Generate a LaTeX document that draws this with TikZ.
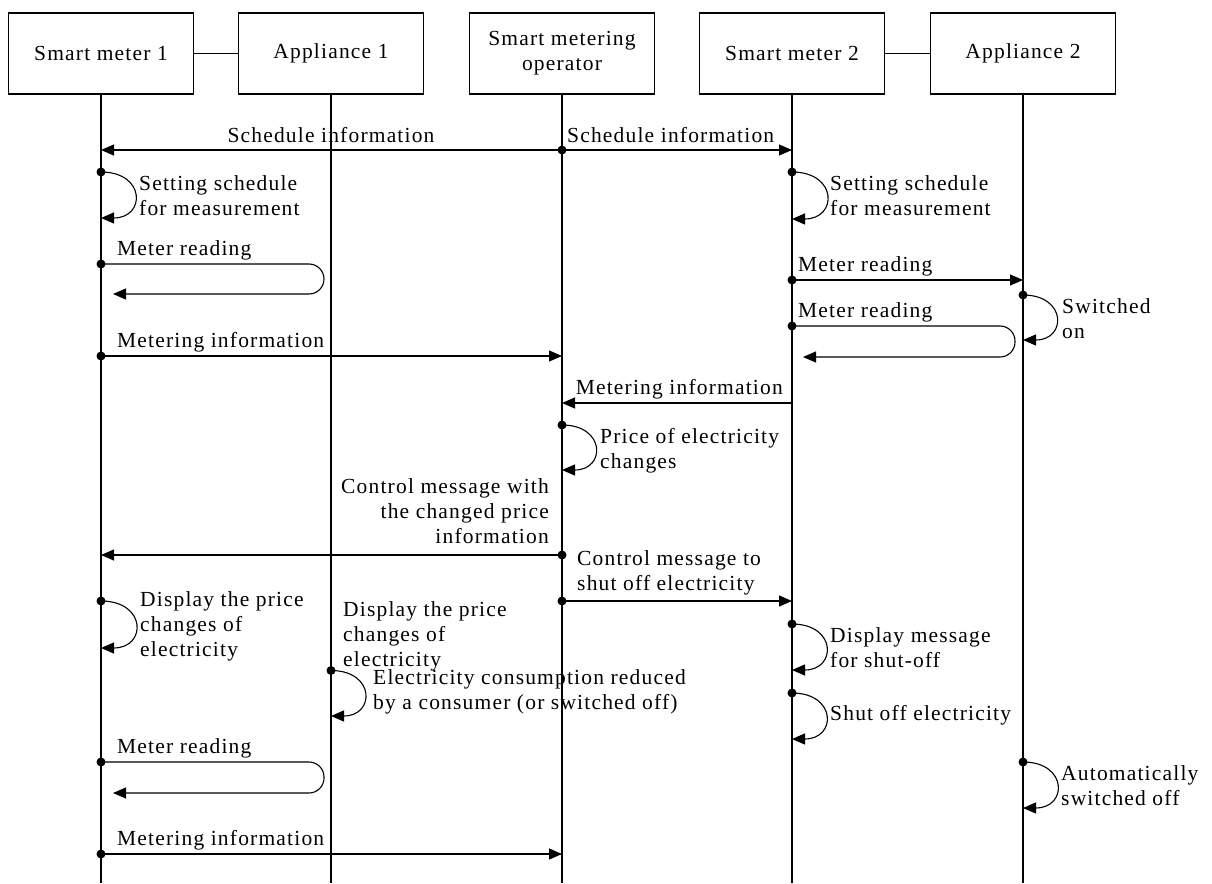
\documentclass[tikz,border=0pt]{standalone}
\usepackage{fontspec}
\setmainfont{Liberation Serif}[LetterSpace=5.5]
\usetikzlibrary{arrows.meta}
\newcommand\lblfont{\fontsize{21.5}{25}\selectfont}
\newcommand\ml[2][l]{\begin{tabular}[t]{@{}#1@{}}#2\end{tabular}}
\begin{document}
\begin{tikzpicture}[x=1pt,y=-1pt,
  box/.style={draw, line width=1.6pt, minimum width=185pt, minimum height=81pt, inner sep=0pt, font=\lblfont},
  link/.style={line width=1.4pt},
  life/.style={line width=1.7pt},
  msg/.style={line width=1.1pt, -{Triangle[length=13pt,width=11pt]}},
  selfloop/.style={msg, out=0, in=0, looseness=2.5},
  uturn/.style={msg, rounded corners=15pt},
  dot/.style={circle, fill, inner sep=0pt, minimum size=9pt},
  lbl/.style={inner sep=0pt, font=\lblfont}]
\useasboundingbox (0,0) rectangle (1212,883);

% participants
\node[box] (sm1) at (101,53.5) {Smart meter 1};
\node[box] (ap1) at (331,53.5) {Appliance 1};
\node[box, align=center] (op) at (562,53.5) {Smart metering\\operator};
\node[box] (sm2) at (792,53.5) {Smart meter 2};
\node[box] (ap2) at (1023,53.5) {Appliance 2};
\draw[link] (sm1) -- (ap1);
\draw[link] (sm2) -- (ap2);

% lifelines
\coordinate (sm1end) at (101,883);
\coordinate (ap1end) at (331,883);
\coordinate (opend) at (562,883);
\coordinate (sm2end) at (792,883);
\coordinate (ap2end) at (1023,883);
\draw[life] (sm1.south) -- (sm1end);
\draw[life] (ap1.south) -- (ap1end);
\draw[life] (op.south) -- (opend);
\draw[life] (sm2.south) -- (sm2end);
\draw[life] (ap2.south) -- (ap2end);

% dots (start points)
\node[dot] (d1) at (562,150) {};
\node[dot] (d2) at (101,172) {};
\node[dot] (d3) at (792,172) {};
\node[dot] (d4) at (101,264) {};
\node[dot] (d5) at (792,280) {};
\node[dot] (d6) at (1023,295) {};
\node[dot] (d7) at (792,326) {};
\node[dot] (d8) at (101,356) {};
\node[dot] (d9) at (562,425) {};
\node[dot] (d10) at (562,555) {};
\node[dot] (d11) at (562,601) {};
\node[dot] (d12) at (101,601) {};
\node[dot] (d13) at (331,670.5) {};
\node[dot] (d14) at (792,624) {};
\node[dot] (d15) at (792,693) {};
\node[dot] (d16) at (101,762) {};
\node[dot] (d17) at (1023,762) {};
\node[dot] (d18) at (101,854) {};

% end points
\coordinate (e1a) at (101,150);
\coordinate (e1b) at (792,150);
\coordinate (e2) at (101,218);
\coordinate (e3) at (792,219);
\coordinate (t4a) at (324,264);
\coordinate (t4b) at (324,294);
\coordinate (e4) at (113,294);
\coordinate (e5) at (1023,280);
\coordinate (e6) at (1023,340);
\coordinate (t7a) at (1015,326);
\coordinate (t7b) at (1015,357);
\coordinate (e7) at (803,357);
\coordinate (e8) at (562,356);
\coordinate (s9) at (792,403);
\coordinate (e9) at (562,403);
\coordinate (e10) at (562,470);
\coordinate (e11) at (101,555);
\coordinate (e12) at (792,601);
\coordinate (e13) at (101,648);
\coordinate (e14) at (331,716);
\coordinate (e15) at (792,670);
\coordinate (e16) at (792,739);
\coordinate (t17a) at (324,762);
\coordinate (t17b) at (324,793);
\coordinate (e17) at (113,793);
\coordinate (e18) at (1023,808);
\coordinate (e19) at (562,854);

% messages
\draw[msg] (d1.center) -- (e1a);
\draw[msg] (d1.center) -- (e1b);
\draw[selfloop] (d2.center) to (e2);
\draw[selfloop] (d3.center) to (e3);
\draw[uturn] (d4.center) -- (t4a) -- (t4b) -- (e4);
\draw[msg] (d5.center) -- (e5);
\draw[selfloop] (d6.center) to (e6);
\draw[uturn] (d7.center) -- (t7a) -- (t7b) -- (e7);
\draw[msg] (d8.center) -- (e8);
\draw[msg] (s9) -- (e9);
\draw[selfloop] (d9.center) to (e10);
\draw[msg] (d10.center) -- (e11);
\draw[msg] (d11.center) -- (e12);
\draw[selfloop] (d12.center) to (e13);
\draw[selfloop] (d13.center) to (e14);
\draw[selfloop] (d14.center) to (e15);
\draw[selfloop] (d15.center) to (e16);
\draw[uturn] (d16.center) -- (t17a) -- (t17b) -- (e17);
\draw[selfloop] (d17.center) to (e18);
\draw[msg] (d18.center) -- (e19);

% labels
\node[lbl, anchor=base] (l1) at (331,142) {Schedule information};
\node[lbl, anchor=base west] (l2) at (567,142) {Schedule information};
\node[lbl, anchor=base west] (l3) at (139,190) {\ml{Setting schedule\\for measurement}};
\node[lbl, anchor=base west] (l4) at (830,190) {\ml{Setting schedule\\for measurement}};
\node[lbl, anchor=base west] (l5) at (117,255) {Meter reading};
\node[lbl, anchor=base west] (l6) at (798,271) {Meter reading};
\node[lbl, anchor=base west] (l7) at (1062,313) {\ml{Switched\\on}};
\node[lbl, anchor=base west] (l8) at (798,317) {Meter reading};
\node[lbl, anchor=base west] (l9) at (117,347) {Metering information};
\node[lbl, anchor=base east] (l10) at (783,394) {Metering information};
\node[lbl, anchor=base west] (l11) at (600,443) {\ml{Price of electricity\\changes}};
\node[lbl, anchor=base east] (l12) at (549,493) {\ml[r]{Control message with\\the changed price\\information}};
\node[lbl, anchor=base west] (l13) at (577,565) {\ml{Control message to\\shut off electricity}};
\node[lbl, anchor=base west] (l14) at (140,606) {\ml{Display the price\\changes of\\electricity}};
\node[lbl, anchor=base west] (l15) at (343,616) {\ml{Display the price\\changes of\\electricity}};
\node[lbl, anchor=base west] (l16) at (373,684) {\ml{Electricity consumption reduced\\by a consumer (or switched off)}};
\node[lbl, anchor=base west] (l17) at (830,642) {\ml{Display message\\for shut-off}};
\node[lbl, anchor=base west] (l18) at (830,720) {Shut off electricity};
\node[lbl, anchor=base west] (l19) at (117,753) {Meter reading};
\node[lbl, anchor=base west] (l20) at (1061,780) {\ml{Automatically\\switched off}};
\node[lbl, anchor=base west] (l21) at (117,845) {Metering information};
\end{tikzpicture}
\end{document}
